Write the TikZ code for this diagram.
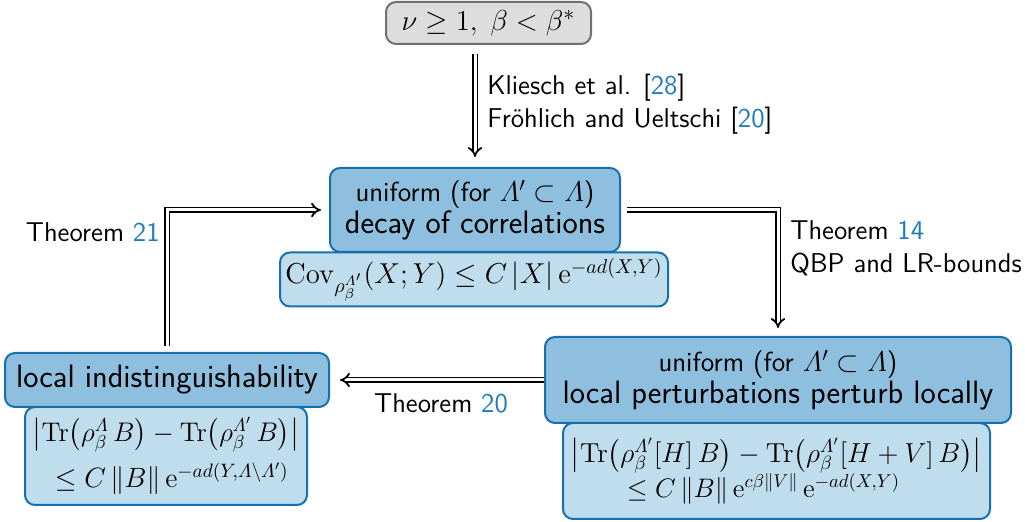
\documentclass[tikz,border=0pt]{standalone}
\usepackage{amsmath}
\usepackage{graphicx}
\usetikzlibrary{arrows.meta}
\definecolor{boxborder}{RGB}{22,112,176}
\definecolor{boxfill}{RGB}{143,191,222}
\definecolor{lowfill}{RGB}{192,221,238}
\definecolor{grayfill}{RGB}{221,221,221}
\definecolor{grayborder}{RGB}{112,112,112}
\definecolor{citeblue}{RGB}{30,122,190}
\newcommand{\mycite}[1]{[\textcolor{citeblue}{#1}]}
\newcommand{\Tr}{\mathrm{Tr}}
\newcommand{\twolines}[4]{\vbox{\baselineskip=#1\lineskiplimit=-\maxdimen\lineskip=0pt
  \hbox{#2}\hbox{\kern#3\relax #4}}}
\begin{document}
\begin{tikzpicture}[x=0.5pt,y=-0.5pt,
  mainbox/.style={draw=boxborder, fill=boxfill, line width=1pt, rounded corners=5pt, align=center, inner sep=0pt, font=\sffamily\fontsize{16.2}{17}\selectfont},
  lowbox/.style={draw=boxborder, fill=lowfill, line width=1pt, rounded corners=5pt, inner sep=0pt, font=\fontsize{14}{15}\selectfont},
  condbox/.style={draw=grayborder, fill=grayfill, line width=1pt, rounded corners=5pt, inner sep=0pt, font=\fontsize{15}{17}\selectfont},
  lbl/.style={font=\sffamily\fontsize{13.6}{16.5}\selectfont, align=left, inner sep=0pt},
  impl/.style={double, double distance=1.5pt, line width=0.9pt, -{Implies}, shorten >=4pt, shorten <=3pt}
]
\useasboundingbox (0,0) rectangle (1025,522);

\node[condbox, minimum width=102.5pt, minimum height=21pt] (cond) at (488.5,23) {$\nu \ge 1,\; \beta < \beta^*$};

\node[lowbox, minimum width=194pt, minimum height=27pt] (cov) at (474,279.5)
  {$\mathrm{Cov}_{\rho_\beta^{\varLambda'}}(X;Y) \le C\,|X|\,\mathrm{e}^{-ad(X,Y)}$};
\node[mainbox, minimum width=145pt, minimum height=42pt] (decay) at (475,210)
  {{\fontsize{13.8}{15}\selectfont uniform (for $\varLambda'\subset\varLambda$)}\\[-1pt] decay of correlations};

\node[lowbox, minimum width=213.5pt, minimum height=48pt] (plow) at (776.5,471)
  {\twolines{17.5pt}
   {\scalebox{0.955}{$\bigl|\Tr\bigl(\rho_\beta^{\varLambda'}[H]\,B\bigr)-\Tr\bigl(\rho_\beta^{\varLambda'}[H+V]\,B\bigr)\bigr|$}}
   {28pt}
   {\scalebox{0.93}{$\le C\,\|B\|\,\mathrm{e}^{c\beta\|V\|}\,\mathrm{e}^{-ad(X,Y)}$}}};
\node[mainbox, minimum width=233pt, minimum height=43pt] (pert) at (778,380)
  {{\fontsize{13.8}{15}\selectfont uniform (for $\varLambda'\subset\varLambda$)}\\[-1pt] local perturbations perturb locally};

\node[lowbox, minimum width=141pt, minimum height=49pt] (llow) at (166,456)
  {\twolines{23pt}
   {\scalebox{0.935}{$\bigl|\Tr\bigl(\rho_\beta^{\varLambda}\,B\bigr)-\Tr\bigl(\rho_\beta^{\varLambda'}\,B\bigr)\bigr|$}}
   {11pt}
   {\scalebox{0.97}{$\le C\,\|B\|\,\mathrm{e}^{-ad(Y,\varLambda\setminus\varLambda')}$}}};
\node[mainbox, minimum width=162pt, minimum height=27pt] (local) at (167,380) {local indistinguishability};

\coordinate (condout) at (cond.south -| decay.north);
\draw[impl, shorten <=4.5pt, shorten >=5pt] (condout) -- (decay);
\draw[impl] (decay) -| (pert);
\draw[impl, shorten <=0pt, shorten >=5pt] (pert) -- (local);
\draw[impl] (local) |- (decay);

\node[lbl, anchor=west] (l1) at (487,104) {Kliesch et al. \mycite{28}\\Fröhlich and Ueltschi \mycite{20}};
\node[lbl, anchor=west] (l2) at (790,248) {Theorem \textcolor{citeblue}{14}\\QBP and LR-bounds};
\node[lbl, anchor=east] (l3) at (160,232) {Theorem \textcolor{citeblue}{21}};
\node[lbl] (l4) at (441,403) {Theorem \textcolor{citeblue}{20}};
\end{tikzpicture}
\end{document}
